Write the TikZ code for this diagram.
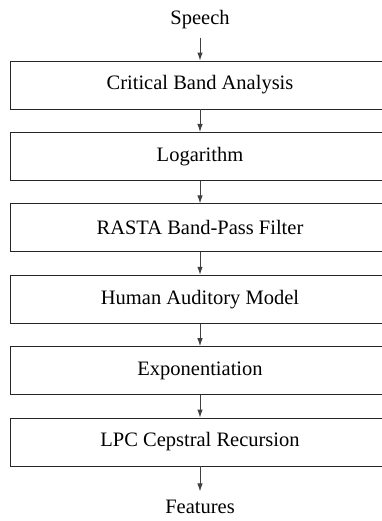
\documentclass[tikz,border=0pt]{standalone}
\usepackage{fontspec}
\setmainfont{Liberation Serif}
\usetikzlibrary{arrows.meta}
\begin{document}
\begin{tikzpicture}[x=1pt,y=1pt,
  stagebox/.style={draw=black!85, line width=0.85pt, minimum width=380pt, minimum height=48pt,
    inner sep=0pt, font=\fontsize{20.5}{24}\selectfont},
  lbl/.style={inner sep=8pt, font=\fontsize{20.5}{24}\selectfont},
  arr/.style={draw=black!75, line width=0.9pt, -{Latex[length=8pt,width=5.5pt]}}]
\useasboundingbox (0,0) rectangle (382,-521);
\node[lbl, anchor=base] (speech) at (200,-25) {Speech};
\node[stagebox] (b1) at (200,-85) {Critical Band Analysis};
\node[stagebox] (b2) at (200,-156.4) {Logarithm};
\node[stagebox] (b3) at (200,-227.8) {RASTA Band-Pass Filter};
\node[stagebox] (b4) at (200,-299.2) {Human Auditory Model};
\node[stagebox] (b5) at (200,-370.6) {Exponentiation};
\node[stagebox] (b6) at (200,-442) {LPC Cepstral Recursion};
\node[lbl, anchor=base] (feat) at (200,-513) {Features};
\draw[arr] (speech.south) -- (b1.north);
\draw[arr] (b1.south) -- (b2.north);
\draw[arr] (b2.south) -- (b3.north);
\draw[arr] (b3.south) -- (b4.north);
\draw[arr] (b4.south) -- (b5.north);
\draw[arr] (b5.south) -- (b6.north);
\draw[arr] (b6.south) -- (feat.north);
\end{tikzpicture}
\end{document}
